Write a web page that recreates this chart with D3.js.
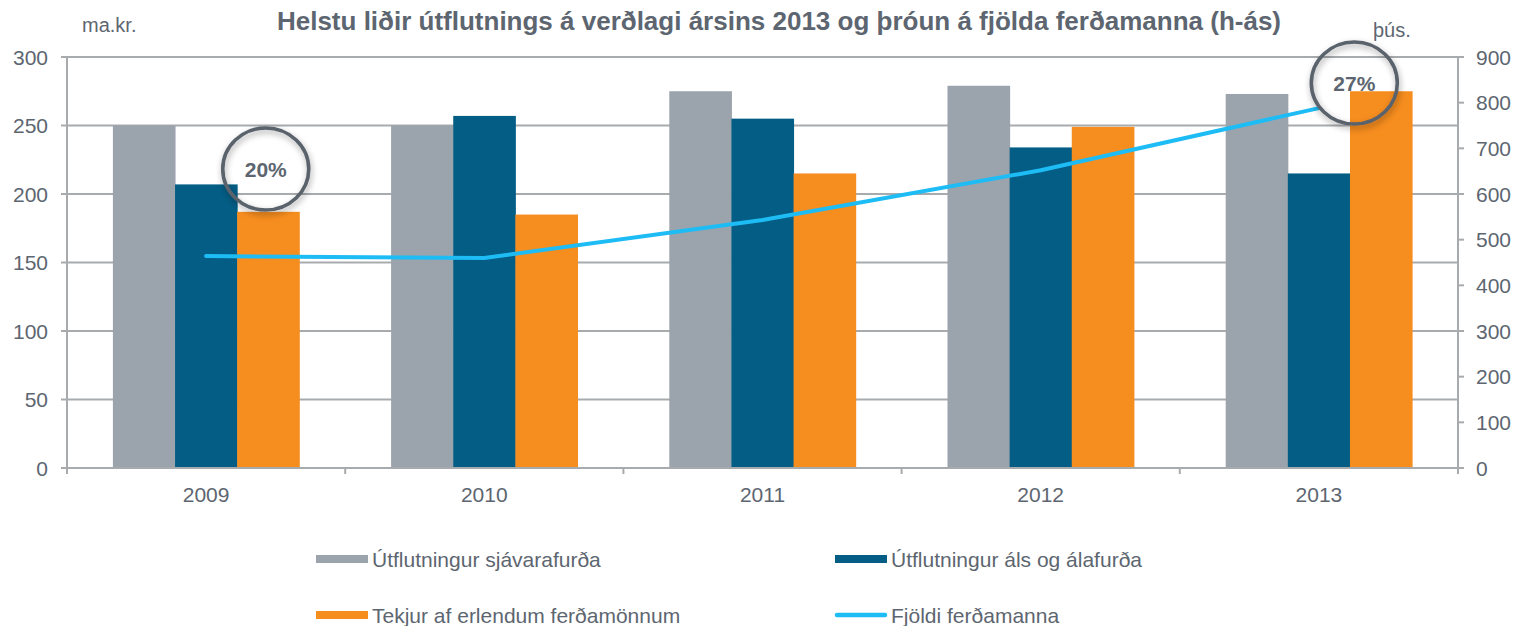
<!DOCTYPE html>
<html><head><meta charset="utf-8">
<script src="https://cdn.jsdelivr.net/npm/d3@7"></script>
<style>body{margin:0;background:#fff}svg{display:block;font-family:"Liberation Sans",Arial,sans-serif}</style>
</head><body><svg id="c" width="1516" height="626"></svg>
<script>
const years = ["2009","2010","2011","2012","2013"];
const sjavarafurdir = [250, 250, 275, 279, 273];
const al = [207, 257, 255, 234, 215];
const ferdamenn_tekjur = [187, 185, 215, 249, 275];
const fjoldi = [464, 460, 543, 652, 788];
const leftTicks = [0,50,100,150,200,250,300];
const rightTicks = [0,100,200,300,400,500,600,700,800,900];
const seriesNames = ["Útflutningur sjávarafurða","Útflutningur áls og álafurða","Tekjur af erlendum ferðamönnum","Fjöldi ferðamanna"];
const colors = ["#9BA3AD","#035D85","#F68D1F","#1EBCF5"];
const callouts = [{year:"2009", label:"20%"},{year:"2013", label:"27%"}];

const svg = d3.select("#c");
const L=67, R=1458, T=57, B=468;
const x = d3.scaleBand().domain(years).range([L,R]).paddingInner(0.33).paddingOuter(0.165);
const xs = d3.scaleBand().domain(years).range([L,R]);
const inner = d3.scaleBand().domain([0,1,2]).range([0,x.bandwidth()]);
const yL = d3.scaleLinear().domain([0,300]).range([B,T]);
const yR = d3.scaleLinear().domain([0,900]).range([B,T]);
const txt="#5d6670", grid="#a8abae";

// gridlines
svg.append("g").selectAll("line").data(leftTicks.filter(d=>d>0)).join("line")
 .attr("x1",L).attr("x2",R).attr("y1",d=>yL(d)).attr("y2",d=>yL(d)).attr("stroke",grid).attr("stroke-width",2);

// bars
const data=[sjavarafurdir,al,ferdamenn_tekjur];
data.forEach((arr,i)=>{
  svg.append("g").selectAll("rect").data(years).join("rect")
   .attr("x",d=>x(d)+inner(i)).attr("width",inner.bandwidth()+0.5)
   .attr("y",(d,j)=>yL(arr[j])).attr("height",(d,j)=>B-yL(arr[j])).attr("fill",colors[i]);
});

// axes
const ga=svg.append("g").attr("stroke",grid).attr("stroke-width",2);
ga.append("line").attr("x1",L).attr("x2",L).attr("y1",T).attr("y2",B+6);
ga.append("line").attr("x1",R).attr("x2",R).attr("y1",T).attr("y2",B+6);
ga.append("line").attr("x1",L-6).attr("x2",R+6).attr("y1",B).attr("y2",B);
ga.selectAll(".lt").data(leftTicks).join("line").attr("x1",L-6).attr("x2",L).attr("y1",d=>yL(d)).attr("y2",d=>yL(d));
ga.selectAll(".rt").data(rightTicks).join("line").attr("x1",R).attr("x2",R+6).attr("y1",d=>yR(d)).attr("y2",d=>yR(d));
ga.selectAll(".xt").data(years.slice(1)).join("line").attr("x1",d=>xs(d)).attr("x2",d=>xs(d)).attr("y1",B).attr("y2",B+6);

svg.append("g").selectAll("text").data(leftTicks).join("text")
 .attr("x",48).attr("y",d=>yL(d)).attr("dy","0.36em").attr("text-anchor","end")
 .attr("font-size",21).attr("fill",txt).text(d=>d);
svg.append("g").selectAll("text").data(rightTicks).join("text")
 .attr("x",1476).attr("y",d=>yR(d)).attr("dy","0.36em")
 .attr("font-size",21).attr("fill",txt).text(d=>d);
svg.append("g").selectAll("text").data(years).join("text")
 .attr("x",d=>x(d)+x.bandwidth()/2).attr("y",502).attr("text-anchor","middle")
 .attr("font-size",21).attr("fill",txt).text(d=>d);

// line
const line=d3.line().x((d,i)=>x(years[i])+x.bandwidth()/2).y(d=>yR(d));
svg.append("path").datum(fjoldi).attr("d",line).attr("fill","none").attr("stroke",colors[3]).attr("stroke-width",4).attr("stroke-linecap","round");

// title & units
svg.append("text").attr("x",779).attr("y",30).attr("text-anchor","middle").attr("font-size",26).attr("font-weight","bold").attr("fill",txt)
 .text("Helstu liðir útflutnings á verðlagi ársins 2013 og þróun á fjölda ferðamanna (h-ás)");
svg.append("text").attr("x",82).attr("y",32).attr("font-size",20).attr("fill",txt).text("ma.kr.");
svg.append("text").attr("x",1373).attr("y",37).attr("font-size",20).attr("fill",txt).text("þús.");

// callouts
const defs=svg.append("defs");
const f=defs.append("filter").attr("id","sh").attr("x","-30%").attr("y","-30%").attr("width","160%").attr("height","160%");
f.append("feDropShadow").attr("dx",1).attr("dy",3).attr("stdDeviation",3).attr("flood-color","#000").attr("flood-opacity",0.35);
const cpos={"2009":[x("2009")+x.bandwidth()*0.82,169],"2013":[x("2013")+x.bandwidth()*0.69,83]};
callouts.forEach(c=>{
  const [cx,cy]=cpos[c.year];
  svg.append("ellipse").attr("cx",cx).attr("cy",cy).attr("rx",43).attr("ry",41).attr("fill","none")
   .attr("stroke","#5a626c").attr("stroke-width",3.6).attr("filter","url(#sh)");
  svg.append("text").attr("x",cx).attr("y",cy).attr("dy","0.36em").attr("text-anchor","middle")
   .attr("font-size",21).attr("font-weight","bold").attr("fill",txt).text(c.label);
});

// legend
const lg=[{x:316,y:559},{x:835,y:559},{x:316,y:615},{x:835,y:615}];
seriesNames.forEach((n,i)=>{
  const p=lg[i];
  if(i<3) svg.append("rect").attr("x",p.x).attr("y",p.y-4).attr("width",52).attr("height",8).attr("fill",colors[i]);
  else svg.append("line").attr("x1",p.x+2).attr("x2",p.x+50).attr("y1",p.y).attr("y2",p.y).attr("stroke",colors[i]).attr("stroke-width",4.5).attr("stroke-linecap","round");
  svg.append("text").attr("x",p.x+56).attr("y",p.y).attr("dy","0.36em").attr("font-size",21).attr("fill",txt).text(n);
});
</script></body></html>
